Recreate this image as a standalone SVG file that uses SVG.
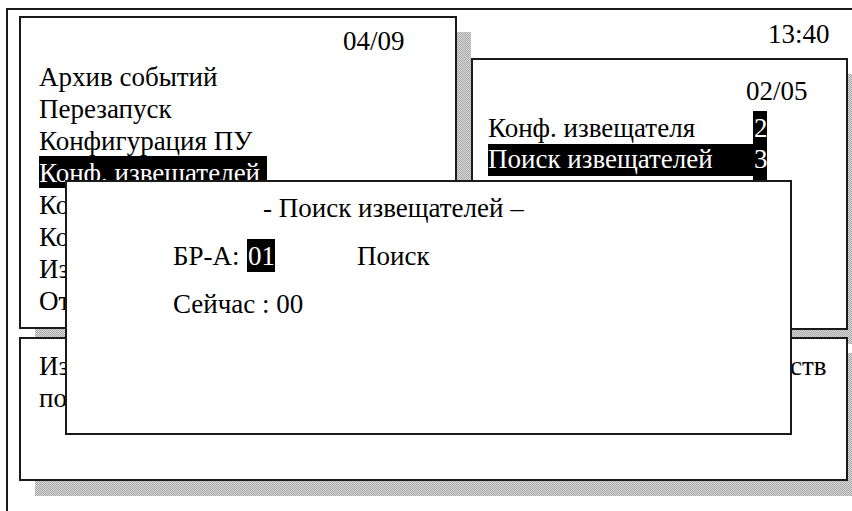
<svg xmlns="http://www.w3.org/2000/svg" width="852" height="511" viewBox="0 0 852 511">
  <defs>
    <pattern id="dots" width="2" height="2" patternUnits="userSpaceOnUse">
      <rect width="2" height="2" fill="#d8d8d8"/>
      <rect width="1" height="1" fill="#a8a8a8"/>
      <rect x="1" y="1" width="1" height="1" fill="#a8a8a8"/>
    </pattern>
  </defs>
  <style>
    .frame { fill: none; stroke: #1a1a1a; stroke-width: 2; }
    .panel { fill: #ffffff; stroke: #1a1a1a; stroke-width: 2; }
    .shadow { fill: url(#dots); }
    .t { font-family: "Liberation Serif", "Times New Roman", serif; font-size: 27px; fill: #000; }
    .w { fill: #ffffff; }
    .hl { fill: #000; }
  </style>
  <rect width="852" height="511" fill="#ffffff"/>

  <g id="outer-frame">
    <rect class="frame" x="7" y="9" width="900" height="600"/>
    <text class="t" x="768" y="43">13:40</text>
  </g>

  <g id="main-menu">
    <rect class="shadow" x="35" y="32" width="436" height="311"/>
    <rect class="panel" x="20" y="17" width="436" height="311"/>
    <text class="t" x="343" y="50">04/09</text>
    <text class="t" x="39" y="86">Архив событий</text>
    <text class="t" x="39" y="118">Перезапуск</text>
    <text class="t" x="39" y="150">Конфигурация ПУ</text>
    <rect class="hl" x="39" y="156" width="228" height="32"/>
    <text class="t w" x="39" y="182">Конф. извещателей</text>
    <text class="t" x="39" y="214">Ко</text>
    <text class="t" x="39" y="246">Ко</text>
    <text class="t" x="39" y="278">Из</text>
    <text class="t" x="39" y="310">От</text>
  </g>

  <g id="submenu">
    <rect class="shadow" x="487" y="74" width="375" height="270"/>
    <rect class="panel" x="472" y="59" width="375" height="270"/>
    <text class="t" x="746" y="100">02/05</text>
    <rect class="hl" x="753" y="111" width="14" height="70"/>
    <rect class="hl" x="488" y="144" width="279" height="32"/>
    <text class="t" x="488" y="137">Конф. извещателя</text>
    <text class="t w" x="754" y="137">2</text>
    <text class="t w" x="488" y="168">Поиск извещателей</text>
    <text class="t w" x="754" y="168">3</text>
  </g>

  <g id="status-panel">
    <rect class="shadow" x="35" y="353" width="827" height="143"/>
    <rect class="panel" x="20" y="338" width="827" height="142"/>
    <text class="t" x="39" y="375">Из</text>
    <text class="t" x="39" y="407">по</text>
    <text class="t" x="790" y="375">ств</text>
  </g>

  <g id="search-dialog">
    <rect class="panel" x="66" y="181" width="725" height="253"/>
    <text class="t" x="263" y="217">- Поиск извещателей –</text>
    <text class="t" x="173" y="265">БР-А:</text>
    <rect class="hl" x="247" y="239" width="28" height="33"/>
    <text class="t w" x="248" y="265">01</text>
    <text class="t" x="357" y="265">Поиск</text>
    <text class="t" x="173" y="313">Сейчас : 00</text>
  </g>

  <g id="connectors"></g>
</svg>
